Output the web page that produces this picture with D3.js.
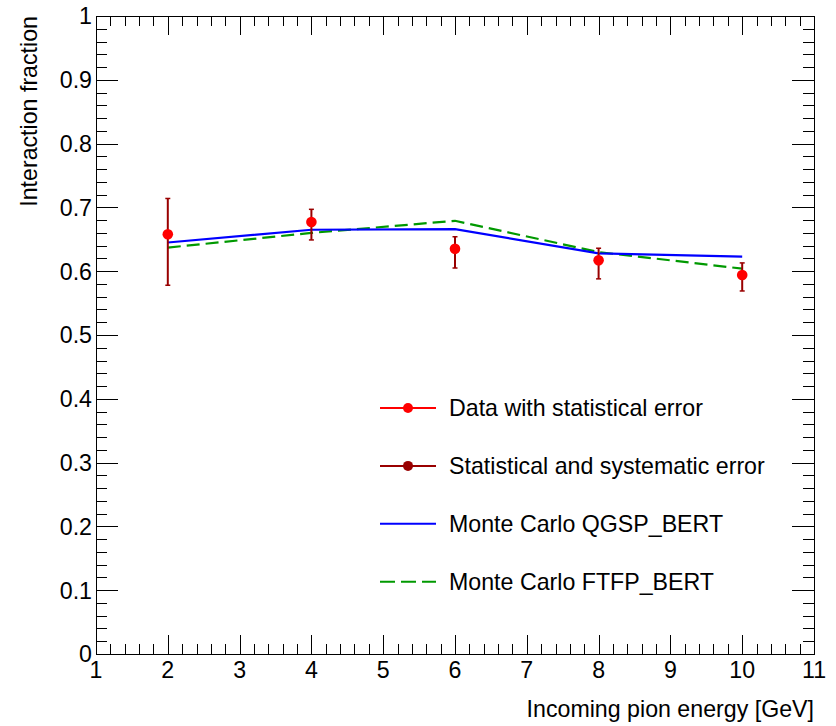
<!DOCTYPE html>
<html>
<head>
<meta charset="utf-8">
<script src="https://cdn.jsdelivr.net/npm/d3@7"></script>
<style>
html, body { margin: 0; padding: 0; background: #fff; }
svg { display: block; }
text { font-family: "Liberation Sans", Arial, Helvetica, sans-serif; fill: #000; }
</style>
</head>
<body>
<svg id="chart" width="836" height="726"></svg>
<script>
// ---- data ----
const energies = [2, 4, 6, 8, 10];
const dataValues = [0.658, 0.677, 0.635, 0.617, 0.594];
const statErrors = [0.005, 0.005, 0.005, 0.005, 0.005];
const totalErrUp = [0.056, 0.020, 0.019, 0.019, 0.019];
const totalErrDown = [0.080, 0.028, 0.030, 0.029, 0.025];
const qgspValues = [0.645, 0.665, 0.666, 0.628, 0.623];
const ftfpValues = [0.637, 0.660, 0.679, 0.630, 0.604];
const xTickLabels = ["1","2","3","4","5","6","7","8","9","10","11"];
const yTickLabels = ["0","0.1","0.2","0.3","0.4","0.5","0.6","0.7","0.8","0.9","1"];
const legendLabels = ["Data with statistical error", "Statistical and systematic error", "Monte Carlo QGSP_BERT", "Monte Carlo FTFP_BERT"];
const xTitle = "Incoming pion energy [GeV]";
const yTitle = "Interaction fraction";

// ---- layout ----
const L = 96, R = 814, T = 16, B = 654;
const fontSize = 23.2;
const cRed = "#ff0000", cDark = "#990000", cBlue = "#0000ff", cGreen = "#009900";

const svg = d3.select("#chart");
const x = d3.scaleLinear().domain([1, 11]).range([L, R]);
const y = d3.scaleLinear().domain([0, 1]).range([B, T]);

// ---- axes (ROOT style: ticks inward on all 4 sides) ----
const xMajor = d3.range(0, 11).map(i => 1 + i);
const xMinor = d3.range(0, 51).map(i => 1 + i * 0.2).filter(v => Math.abs(v - Math.round(v)) > 1e-6);
const yMajor = d3.range(0, 11).map(i => i / 10);
const yMinor = d3.range(0, 51).map(i => i * 0.02).filter(v => Math.abs(v * 10 - Math.round(v * 10)) > 1e-6);

function axisGroup(axisGen, tx, ty) {
  const g = svg.append("g").attr("transform", `translate(${tx},${ty})`).call(axisGen);
  g.select(".domain").remove();
  g.selectAll(".tick line").attr("stroke", "#000").attr("stroke-width", 1).attr("shape-rendering", "crispEdges");
  return g;
}
// bottom
axisGroup(d3.axisTop(x).tickValues(xMajor).tickSize(19).tickFormat(""), 0, B);
axisGroup(d3.axisTop(x).tickValues(xMinor).tickSize(10).tickFormat(""), 0, B);
// top
axisGroup(d3.axisBottom(x).tickValues(xMajor).tickSize(19).tickFormat(""), 0, T);
axisGroup(d3.axisBottom(x).tickValues(xMinor).tickSize(10).tickFormat(""), 0, T);
// left
axisGroup(d3.axisRight(y).tickValues(yMajor).tickSize(22).tickFormat(""), L, 0);
axisGroup(d3.axisRight(y).tickValues(yMinor).tickSize(11).tickFormat(""), L, 0);
// right
axisGroup(d3.axisLeft(y).tickValues(yMajor).tickSize(22).tickFormat(""), R, 0);
axisGroup(d3.axisLeft(y).tickValues(yMinor).tickSize(11).tickFormat(""), R, 0);

// frame
svg.append("rect").attr("x", L).attr("y", T).attr("width", R - L).attr("height", B - T)
  .attr("fill", "none").attr("stroke", "#000").attr("stroke-width", 1).attr("shape-rendering", "crispEdges");

// tick labels
svg.append("g").selectAll("text").data(xMajor).join("text")
  .attr("x", d => x(d)).attr("y", 678).attr("text-anchor", "middle")
  .attr("font-size", fontSize).text((d, i) => xTickLabels[i]);
svg.append("g").selectAll("text").data(yMajor).join("text")
  .attr("x", 92).attr("y", d => y(d)).attr("dy", "0.36em").attr("text-anchor", "end")
  .attr("font-size", fontSize).text((d, i) => yTickLabels[i]);

// titles
svg.append("text").attr("x", R).attr("y", 717).attr("text-anchor", "end")
  .attr("font-size", fontSize).text(xTitle);
svg.append("text").attr("transform", `translate(37,${T}) rotate(-90)`).attr("text-anchor", "end")
  .attr("font-size", fontSize).text(yTitle);

// ---- MC lines ----
const line = d3.line().x((d, i) => x(energies[i])).y(d => y(d));
svg.append("path").datum(ftfpValues).attr("d", line).attr("fill", "none")
  .attr("stroke", cGreen).attr("stroke-width", 2.2).attr("stroke-dasharray", "13,6");
svg.append("path").datum(qgspValues).attr("d", line).attr("fill", "none")
  .attr("stroke", cBlue).attr("stroke-width", 2.2);

// ---- data points ----
const pts = energies.map((e, i) => ({ e, v: dataValues[i], s: statErrors[i], up: totalErrUp[i], dn: totalErrDown[i] }));
const gp = svg.append("g");
// stat errors (red)
gp.selectAll("line.stat").data(pts).join("line").attr("class", "stat")
  .attr("x1", d => x(d.e)).attr("x2", d => x(d.e))
  .attr("y1", d => y(d.v + d.s)).attr("y2", d => y(d.v - d.s))
  .attr("stroke", cRed).attr("stroke-width", 2);
// total errors (dark red) with caps
gp.selectAll("line.tot").data(pts).join("line").attr("class", "tot")
  .attr("x1", d => x(d.e)).attr("x2", d => x(d.e))
  .attr("y1", d => y(d.v + d.up)).attr("y2", d => y(d.v - d.dn))
  .attr("stroke", cDark).attr("stroke-width", 2);
gp.selectAll("line.capu").data(pts).join("line").attr("class", "capu")
  .attr("x1", d => x(d.e) - 2.5).attr("x2", d => x(d.e) + 2.5)
  .attr("y1", d => y(d.v + d.up)).attr("y2", d => y(d.v + d.up))
  .attr("stroke", cDark).attr("stroke-width", 1.5);
gp.selectAll("line.capd").data(pts).join("line").attr("class", "capd")
  .attr("x1", d => x(d.e) - 2.5).attr("x2", d => x(d.e) + 2.5)
  .attr("y1", d => y(d.v - d.dn)).attr("y2", d => y(d.v - d.dn))
  .attr("stroke", cDark).attr("stroke-width", 1.5);
gp.selectAll("circle").data(pts).join("circle")
  .attr("cx", d => x(d.e)).attr("cy", d => y(d.v)).attr("r", 5.3).attr("fill", cRed);

// ---- legend ----
const lg = svg.append("g");
const legY = i => 408 + i * 57.9;
const lx1 = 380, lx2 = 436, lxm = 408, ltx = 449;
const legStyles = [
  { color: cRed, marker: true, dash: null },
  { color: cDark, marker: true, dash: null },
  { color: cBlue, marker: false, dash: null },
  { color: cGreen, marker: false, dash: "15,6" }
];
legendLabels.forEach((lab, i) => {
  const st = legStyles[i];
  lg.append("line").attr("x1", lx1).attr("x2", lx2).attr("y1", legY(i)).attr("y2", legY(i))
    .attr("stroke", st.color).attr("stroke-width", 2).attr("stroke-dasharray", st.dash);
  if (st.marker) lg.append("circle").attr("cx", lxm).attr("cy", legY(i)).attr("r", 5).attr("fill", st.color);
  lg.append("text").attr("x", ltx).attr("y", legY(i)).attr("dy", "0.36em")
    .attr("font-size", fontSize).text(lab);
});
</script>
</body>
</html>
